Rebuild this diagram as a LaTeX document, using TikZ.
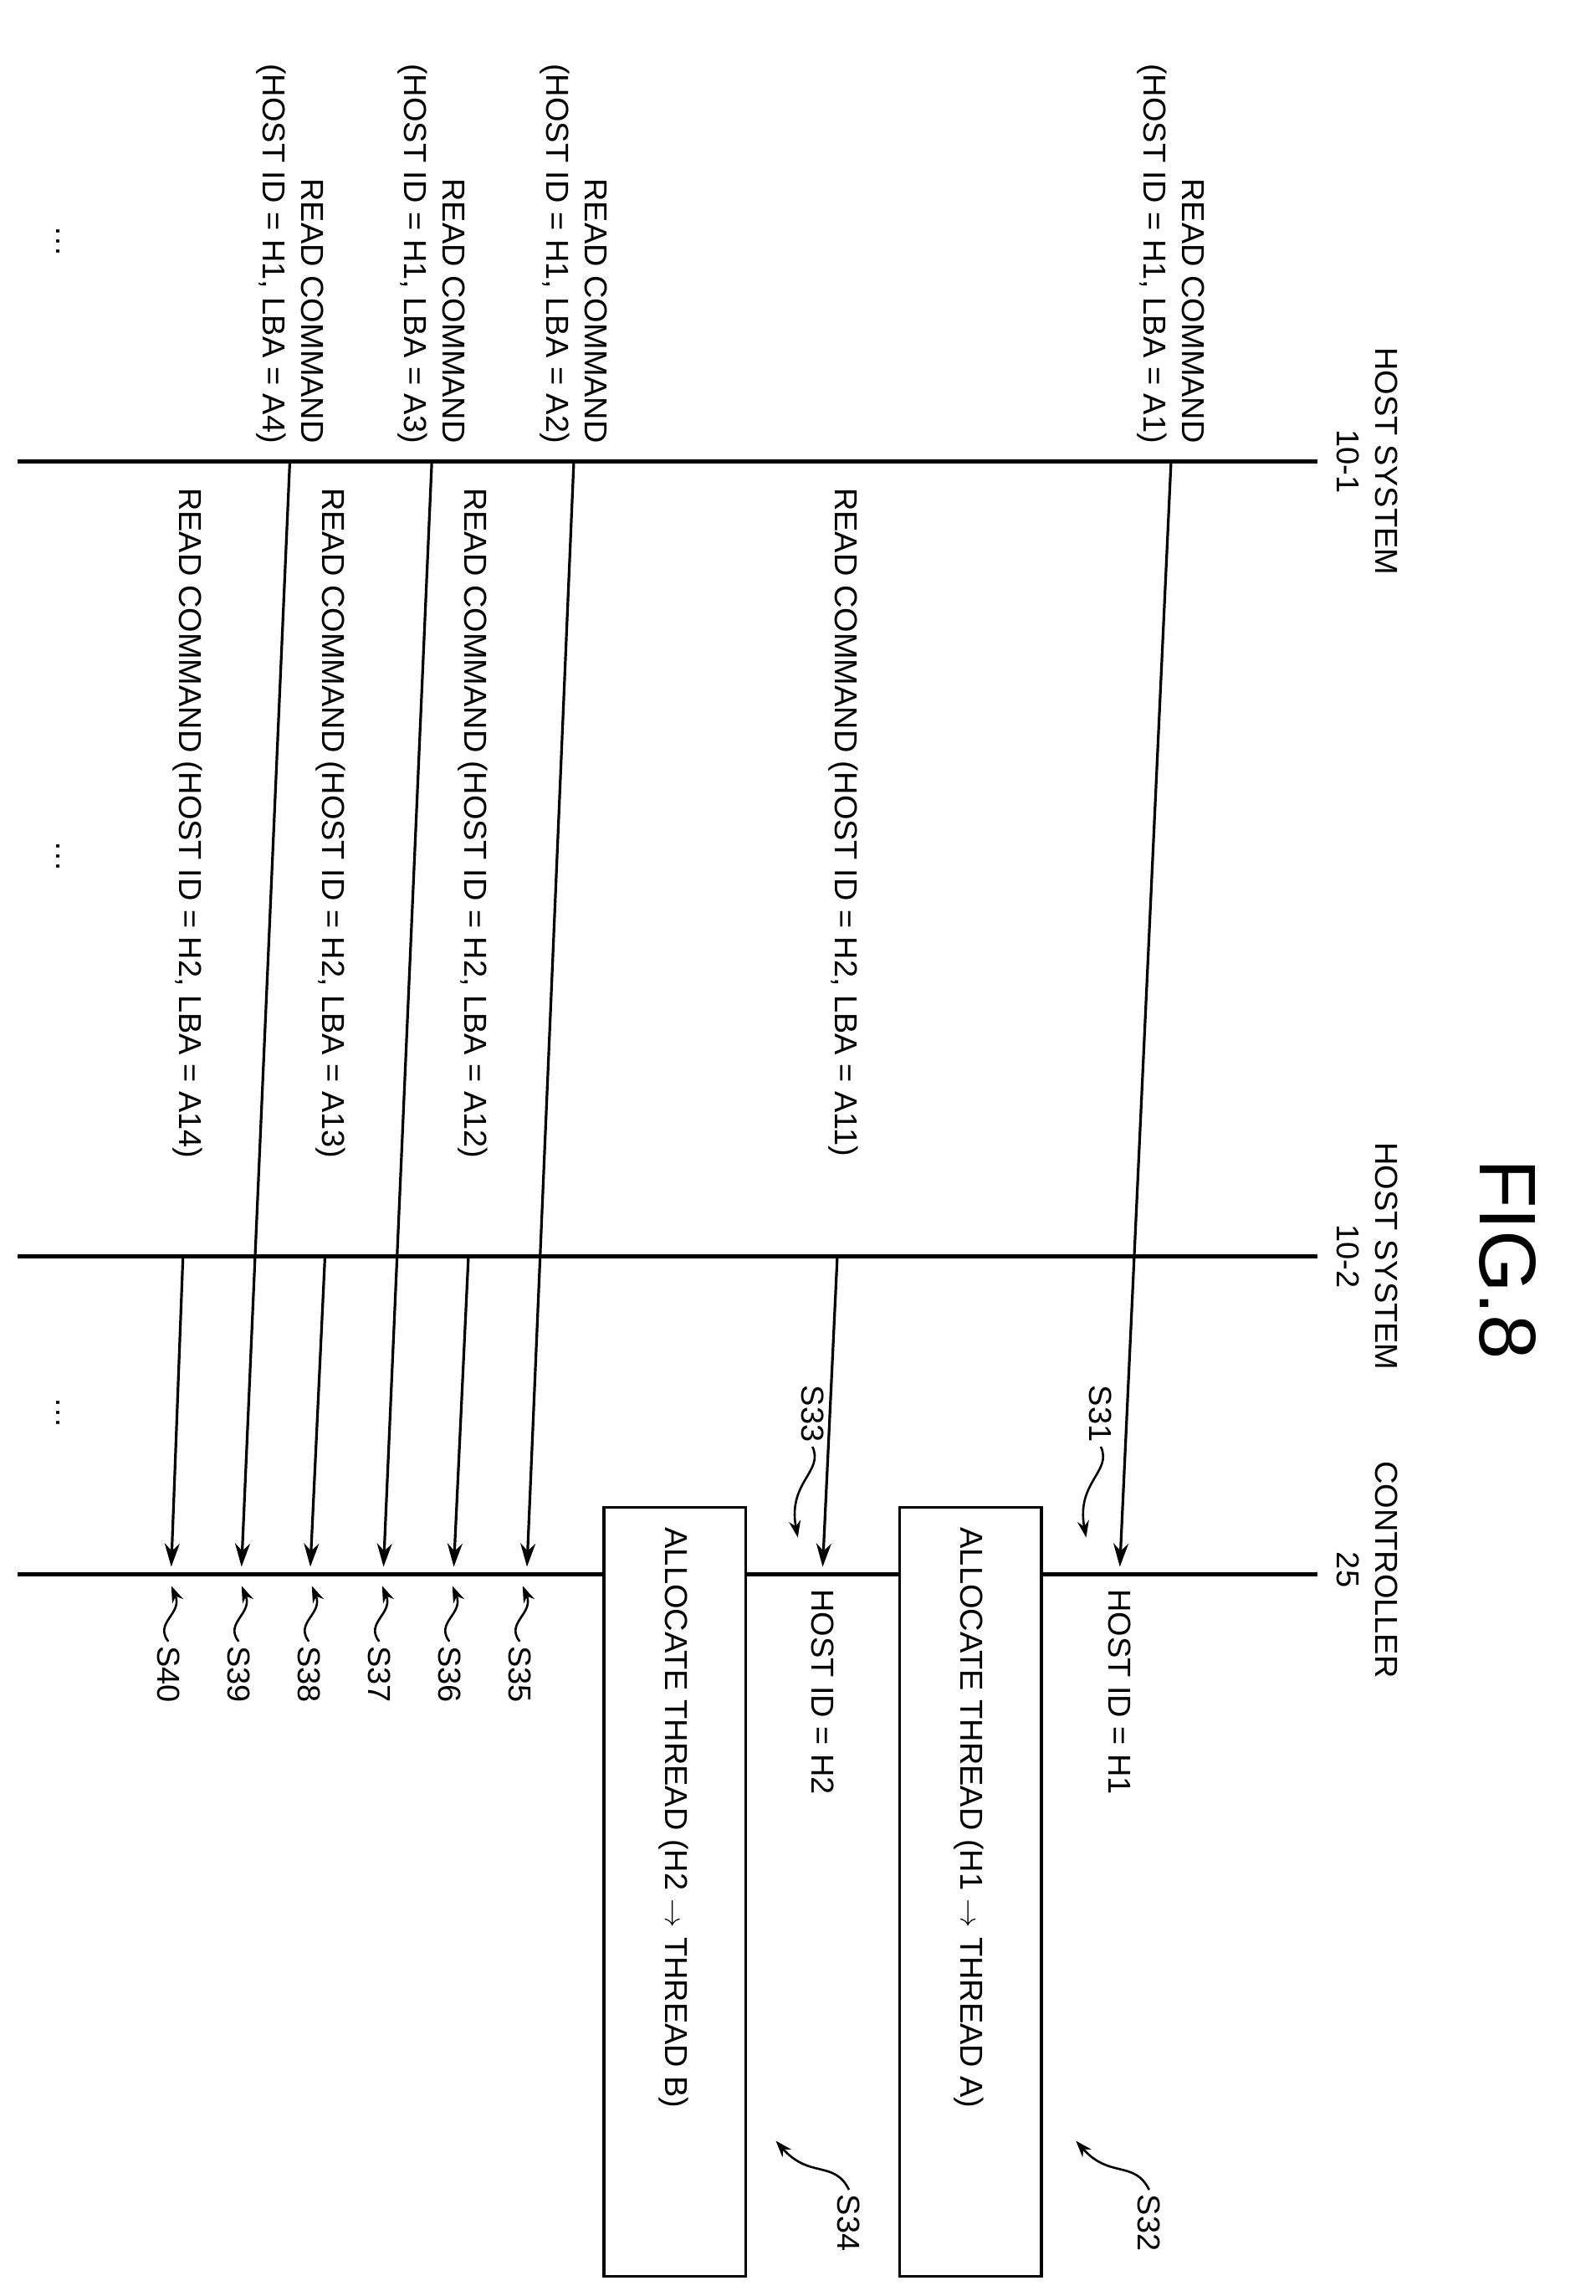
\documentclass[tikz,border=0pt]{standalone}
\usepackage{fontspec}
\setmainfont{Liberation Sans}
\usetikzlibrary{arrows.meta, positioning}
\tikzset{
  lifeline/.style={line width=2.4pt},
  msg/.style={line width=1.6pt, -{Stealth[length=14pt,width=9pt]}},
  squig/.style={line width=1.3pt, -{Stealth[length=10pt,width=7pt]}},
  vtext/.style={rotate=-90, inner sep=0pt, font=\fontsize{19}{23}\selectfont},
  stepbox/.style={draw, fill=white, line width=1.8pt, minimum width=97*0.876pt, minimum height=525*0.876pt, inner sep=0pt}
}
\begin{document}
\begin{tikzpicture}[x=0.876pt, y=-0.876pt]
    \useasboundingbox (0,0) rectangle (1090,1568);

    % title
    \node[rotate=-90, font=\fontsize{48}{52}\selectfont] (fig) at (1030,860) {FIG.8};

    % lifelines
    \coordinate (h1top) at (900,315);  \coordinate (h1bot) at (12,315);
    \coordinate (h2top) at (900,858);  \coordinate (h2bot) at (12,858);
    \coordinate (cttop) at (900,1075); \coordinate (ctbot) at (12,1075);
    \draw[lifeline] (h1top) -- (h1bot);
    \draw[lifeline] (h2top) -- (h2bot);
    \draw[lifeline] (cttop) -- (ctbot);
    \node[vtext, align=center] (h1lbl) at (934,315) {HOST SYSTEM\\10-1};
    \node[vtext, align=center] (h2lbl) at (934,858) {HOST SYSTEM\\10-2};
    \node[vtext, align=center] (ctlbl) at (934,1072) {CONTROLLER\\25};

    % dots
    \node[vtext] (dots1) at (40,165) {\dots};
    \node[vtext] (dots2) at (40,585) {\dots};
    \node[vtext] (dots3) at (40,965) {\dots};

    % commands from host system 10-1
    \foreach \nm/\xs/\xe/\lba in {a1/800/765/A1, a2/392/360/A2, a3/295/262/A3, a4/198/165/A4}{
      \coordinate (\nm s) at (\xs,315);
      \coordinate (\nm e) at (\xe,1070);
      \draw[msg] (\nm s) -- (\nm e);
      \node[vtext, align=right, anchor=east] (\nm lbl) at (\xs,303)
        {READ COMMAND\\(HOST ID = H1, LBA = \lba)};
    }

    % commands from host system 10-2
    \foreach \nm/\xs/\xe/\lx/\lba in {b1/572/562/568/A11, b2/320/310/315/A12, b3/222/212/218/A13, b4/125/117/120/A14}{
      \coordinate (\nm s) at (\xs,858);
      \coordinate (\nm e) at (\xe,1070);
      \draw[msg] (\nm s) -- (\nm e);
      \node[vtext, anchor=west] (\nm lbl) at (\lx+8,333)
        {READ COMMAND (HOST ID = H2, LBA = \lba)};
    }

    % controller side
    \node[vtext, anchor=west] (hid1) at (765,1085) {HOST ID = H1};
    \node[vtext, anchor=west] (hid2) at (562,1085) {HOST ID = H2};
    \node[stepbox] (box1) at (663,1292) {};
    \node[stepbox] (box2) at (461,1292) {};
    \node[vtext, anchor=west] (box1txt) at (662,1043) {ALLOCATE THREAD (H1 $\rightarrow$ THREAD A)};
    \node[vtext, anchor=west] (box2txt) at (460,1043) {ALLOCATE THREAD (H2 $\rightarrow$ THREAD B)};

    % step labels
    \node[vtext, anchor=east] (s31) at (752,985) {S31};
    \draw[squig] (s31.east) ++(0,3) .. controls (760,1005) and (735,1012) .. (742,1050);
    \node[vtext, anchor=east] (s33) at (555,985) {S33};
    \draw[squig] (s33.east) ++(0,3) .. controls (563,1005) and (538,1012) .. (545,1050);

    \node[vtext] (s32) at (785,1518) {S32};
    \draw[squig] (s32.west) ++(0,-3) .. controls (775,1475) and (758,1488) .. (735,1462);
    \node[vtext] (s34) at (580,1518) {S34};
    \draw[squig] (s34.west) ++(0,-3) .. controls (570,1475) and (553,1488) .. (530,1462);

    \foreach \nm/\xx in {35/357, 36/309, 37/261, 38/213, 39/165, 40/117}{
      \node[vtext, anchor=west] (s\nm) at (\xx-2,1124) {S\nm};
      \draw[squig] (s\nm.west) ++(0,-3) .. controls (\xx-12,1108) and (\xx+8,1102) .. (\xx,1083);
    }
\end{tikzpicture}
\end{document}
